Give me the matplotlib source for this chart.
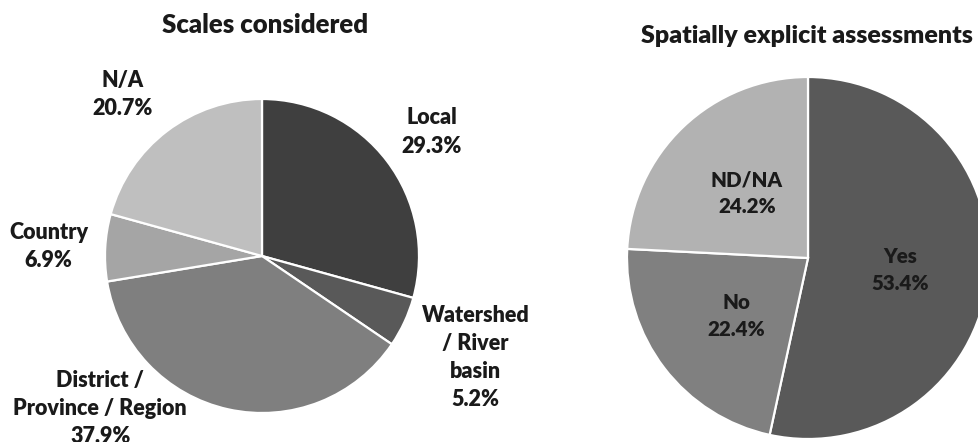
import matplotlib
matplotlib.use("Agg")
import matplotlib.pyplot as plt

# scales considered (clockwise from 12 o'clock)
scale_labels = ["Local", "Watershed\n/ River\nbasin", "District /\nProvince / Region", "Country", "N/A"]
scale_values = [29.3, 5.2, 37.9, 6.9, 20.7]
scale_colors = ["#3f3f3f", "#595959", "#7f7f7f", "#a5a5a5", "#bfbfbf"]

# spatially explicit assessments
spatial_labels = ["Yes", "No", "ND/NA"]
spatial_values = [53.4, 22.4, 24.2]
spatial_colors = ["#595959", "#808080", "#b2b2b2"]

# label anchor positions, in units of pie radius
scale_pos = [(1.08, 0.79), (1.36, -0.645), (-1.03, -0.97), (-1.36, 0.06), (-0.885, 1.03)]
spatial_pos = [(0.508, -0.066), (-0.398, -0.32), (-0.337, 0.359)]

plt.rcParams["font.family"] = ["Lato", "DejaVu Sans"]

W, H = 979, 442
fig = plt.figure(figsize=(W / 100, H / 100), dpi=100)
fig.patch.set_facecolor("white")

WEIGHT = "heavy"


def pie_axes(cx, cy, r):
    # cx, cy in image pixels (y from top)
    ax = fig.add_axes([(cx - r) / W, (H - cy - r) / H, 2 * r / W, 2 * r / H])
    ax.set_xlim(-1, 1)
    ax.set_ylim(-1, 1)
    ax.set_aspect("equal")
    ax.axis("off")
    return ax


def draw(ax, values, colors, labels, pos, fs, ls):
    ax.pie(values, colors=colors, startangle=90, counterclock=False, radius=1.0,
           wedgeprops=dict(edgecolor="white", linewidth=1.6))
    for lab, v, (x, y) in zip(labels, values, pos):
        ax.text(x, y, f"{lab}\n{v:.1f}%", ha="center", va="center", fontsize=fs,
                fontweight=WEIGHT, linespacing=ls, color="#1a1a1a",
                multialignment="center", clip_on=False)
    ax.set_xlim(-1, 1)
    ax.set_ylim(-1, 1)


ax1 = pie_axes(262, 256, 157)
draw(ax1, scale_values, scale_colors, scale_labels, scale_pos, 15.5, 1.42)

ax2 = pie_axes(808, 258, 181)
draw(ax2, spatial_values, spatial_colors, spatial_labels, spatial_pos, 14.8, 1.45)

fig.text(265 / W, 1 - 25 / H, "Scales considered", ha="center", va="center",
         fontsize=18.5, fontweight=WEIGHT, color="#1a1a1a")
fig.text(807 / W, 1 - 36 / H, "Spatially explicit assessments", ha="center", va="center",
         fontsize=18, fontweight=WEIGHT, color="#1a1a1a")

fig.savefig("out.png", dpi=100)
